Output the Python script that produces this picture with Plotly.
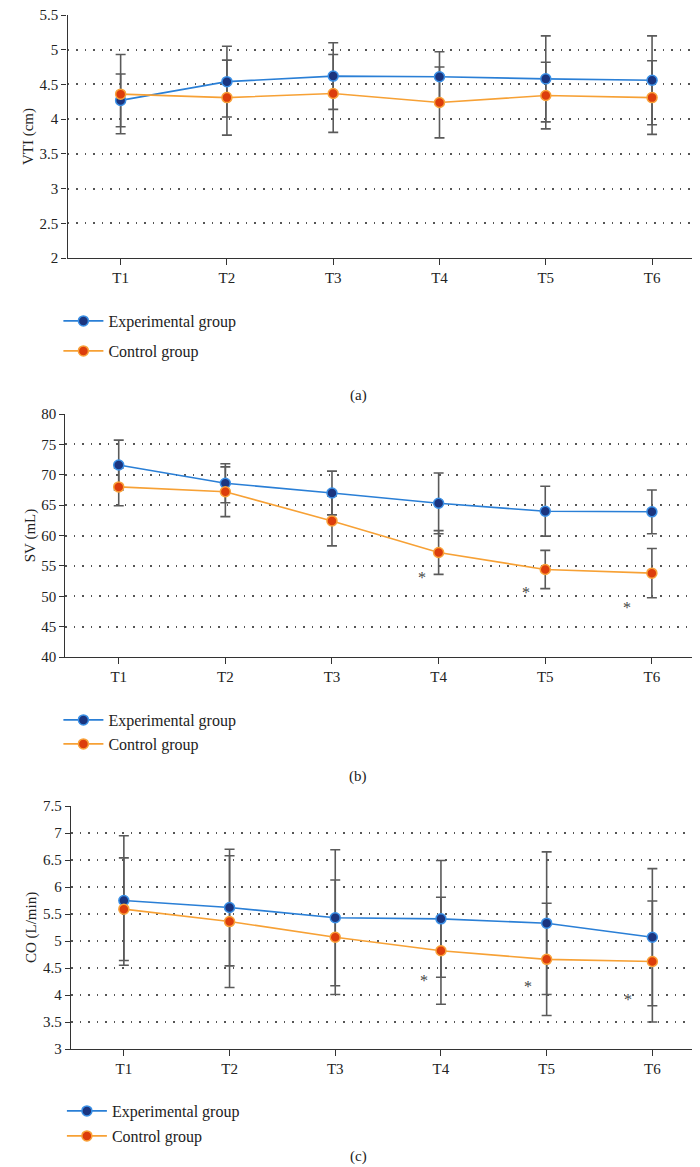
import plotly.graph_objects as go

times = ["T1", "T2", "T3", "T4", "T5", "T6"]
x_idx = list(range(len(times)))

# (a) VTI (cm)
vti_exp = [4.27, 4.54, 4.62, 4.61, 4.58, 4.56]
vti_exp_sd = [0.38, 0.51, 0.48, 0.36, 0.62, 0.64]
vti_ctl = [4.36, 4.31, 4.37, 4.24, 4.34, 4.31]
vti_ctl_sd = [0.57, 0.54, 0.56, 0.51, 0.48, 0.53]

# (b) SV (mL)
sv_exp = [71.6, 68.6, 67.0, 65.3, 64.0, 63.9]
sv_exp_sd = [4.1, 3.2, 3.6, 5.0, 4.1, 3.6]
sv_ctl = [68.0, 67.2, 62.4, 57.2, 54.4, 53.8]
sv_ctl_sd = [3.1, 4.1, 4.1, 3.6, 3.15, 4.05]
sv_star_y = [53.5, 51.1, 48.7]

# (c) CO (L/min)
co_exp = [5.75, 5.62, 5.43, 5.41, 5.33, 5.07]
co_exp_sd = [1.2, 1.08, 1.26, 1.08, 1.32, 1.27]
co_ctl = [5.59, 5.36, 5.07, 4.82, 4.66, 4.62]
co_ctl_sd = [0.95, 1.22, 1.06, 0.99, 1.04, 1.12]
co_star_y = [4.32, 4.22, 3.98]

star_idx = [3, 4, 5]
star_shift = [0.16, 0.18, 0.23]

FONT = "Liberation Serif, Times New Roman, serif"
H = 1167
EXP_LINE, EXP_FILL = "#2a7fd6", "#1b357f"
CTL_LINE, CTL_FILL = "#f7a135", "#dc3d0c"
ERR = "#5a5a5a"

# legend rows (pixel y of each item centre) and left edge per panel
legend_rows = {1: (313, 343), 2: (712, 736), 3: (1103, 1128)}
legend_left = {1: 0.072, 2: 0.072, 3: 0.077}

fig = go.Figure()

def add_panel(n, exp, exp_sd, ctl, ctl_sd):
    xa = "x" if n == 1 else f"x{n}"
    ya = "y" if n == 1 else f"y{n}"
    lg_e = f"legend{2 * n - 1}" if n > 1 else "legend"
    lg_c = f"legend{2 * n}"
    # error bars first so every marker sits on top
    for vals, sd in ((exp, exp_sd), (ctl, ctl_sd)):
        fig.add_trace(go.Scatter(x=x_idx, y=vals, mode="markers", marker=dict(size=2, color="rgba(0,0,0,0)"),
                                 error_y=dict(type="data", array=sd, color=ERR, thickness=1.6, width=5),
                                 showlegend=False, hoverinfo="skip", xaxis=xa, yaxis=ya))
    fig.add_trace(go.Scatter(x=x_idx, y=exp, mode="lines+markers", name="Experimental group",
                             line=dict(color=EXP_LINE, width=1.6),
                             marker=dict(size=10, color=EXP_FILL, line=dict(color="#3b90e6", width=1.5)),
                             legend=lg_e, xaxis=xa, yaxis=ya))
    fig.add_trace(go.Scatter(x=x_idx, y=ctl, mode="lines+markers", name="Control group",
                             line=dict(color=CTL_LINE, width=1.6),
                             marker=dict(size=10, color=CTL_FILL, line=dict(color="#f9a23a", width=1.5)),
                             legend=lg_c, xaxis=xa, yaxis=ya))

add_panel(1, vti_exp, vti_exp_sd, vti_ctl, vti_ctl_sd)
add_panel(2, sv_exp, sv_exp_sd, sv_ctl, sv_ctl_sd)
add_panel(3, co_exp, co_exp_sd, co_ctl, co_ctl_sd)

def ydom(top, bottom):
    return [1 - bottom / H, 1 - top / H]

tick_font = dict(family=FONT, size=15, color="#222")
xcommon = dict(range=[-0.5, 5.5], tickvals=x_idx, ticktext=times, showline=True, linecolor="#333", linewidth=1.3,
               ticks="outside", ticklen=6, tickcolor="#333", showgrid=False, zeroline=False, tickfont=tick_font,
               automargin=False)
ycommon = dict(showline=True, linecolor="#333", linewidth=1.3, ticks="outside", ticklen=5, tickcolor="#333",
               showgrid=True, gridcolor="#555", gridwidth=1.5, griddash="1.5px,7px", zeroline=False,
               tickfont=tick_font, title_font=dict(family=FONT, size=15, color="#222"), title_standoff=2,
               automargin=False, ticklabeloverflow="allow")

fig.update_layout(
    xaxis=dict(domain=[0.085, 0.996], anchor="y", **xcommon),
    xaxis2=dict(domain=[0.082, 0.996], anchor="y2", **xcommon),
    xaxis3=dict(domain=[0.09, 0.996], anchor="y3", **xcommon),
    yaxis=dict(domain=ydom(7, 250), anchor="x", range=[2, 5.5], dtick=0.5, title_text="VTI (cm)", **ycommon),
    yaxis2=dict(domain=ydom(406, 649), anchor="x2", range=[40, 80], dtick=5, title_text="SV (mL)", **ycommon),
    yaxis3=dict(domain=ydom(798, 1041), anchor="x3", range=[3, 7.5], dtick=0.5, title_text="CO (L/min)", **ycommon),
)

legends = {}
for n, rows in legend_rows.items():
    for k, ypx in enumerate(rows):
        key = "legend" if (n == 1 and k == 0) else f"legend{2 * n - 1 + k}"
        legends[key] = dict(x=legend_left[n], y=1 - ypx / H, xanchor="left", yanchor="middle",
                            bgcolor="rgba(0,0,0,0)", itemwidth=40,
                            font=dict(family=FONT, size=16, color="#222"))
fig.update_layout(**legends)

annotations = []
for txt, ypx in (("(a)", 377), ("(b)", 768), ("(c)", 1159)):
    annotations.append(dict(text=txt, x=0.5, y=1 - ypx / H, xref="paper", yref="paper", showarrow=False,
                            font=dict(family=FONT, size=15, color="#222")))
for ax, ys in (("2", sv_star_y), ("3", co_star_y)):
    for i, yv, sh in zip(star_idx, ys, star_shift):
        annotations.append(dict(text="*", x=x_idx[i] - sh, y=yv, xref=f"x{ax}", yref=f"y{ax}", showarrow=False,
                                yshift=-3, font=dict(family=FONT, size=16, color="#444")))

fig.update_layout(
    annotations=annotations,
    width=700, height=H,
    margin=dict(l=0, r=0, t=0, b=0, autoexpand=False),
    paper_bgcolor="white", plot_bgcolor="white",
    showlegend=True,
)

fig.write_html("out.html")
